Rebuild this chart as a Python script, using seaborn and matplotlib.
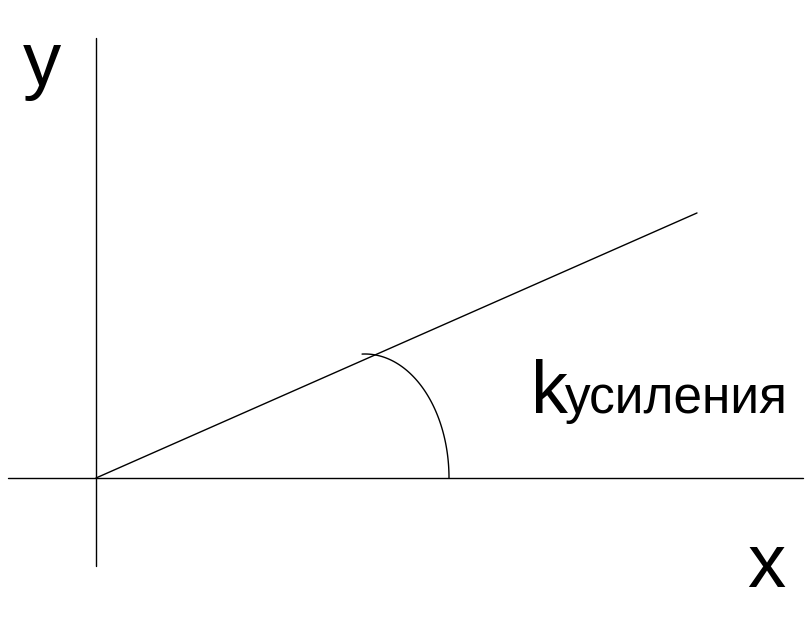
import numpy as np
import pandas as pd
import matplotlib
matplotlib.use("Agg")
import matplotlib.pyplot as plt
import seaborn as sns

# diagram coordinates (origin where the axes cross, 1 unit ~ 1 px)
x_axis = [-88, 707]
y_axis = [-88, 440]
gain_x = [0, 601]
gain_slope = 0.441
arc_center = (269, 0)
arc_radii = (84, 124)
arc_angles = [0, 92]

sns.set_theme(style="white")
plt.rcParams["font.family"] = ["Liberation Sans", "DejaVu Sans"]

fig = plt.figure(figsize=(8.11, 6.17), dpi=100)
ax = fig.add_axes([0, 0, 1, 1])

kw = dict(color="black", linewidth=1.0, legend=False, sort=False,
          estimator=None)

sns.lineplot(x=x_axis, y=[0, 0], ax=ax, **kw)
sns.lineplot(x=[0, 0], y=y_axis, ax=ax, orient="y", **kw)

gain = pd.DataFrame({"x": gain_x})
gain["y"] = gain["x"] * gain_slope
sns.lineplot(data=gain, x="x", y="y", ax=ax, **kw)

t = np.radians(np.linspace(arc_angles[0], arc_angles[1], 100))
arc = pd.DataFrame({"x": arc_center[0] + arc_radii[0] * np.cos(t),
                    "y": arc_center[1] + arc_radii[1] * np.sin(t)})
sns.lineplot(data=arc, x="x", y="y", ax=ax, **kw)

txt = dict(color="black", ha="left", va="baseline")
ax.text(-73, 393, "y", fontsize=55, **txt)
ax.text(651, -109, "x", fontsize=55, **txt)
ax.text(435, 65, "k", fontsize=53, **txt)
ax.text(469, 65, "усиления", fontsize=37, **txt)

ax.set_xlim(-96, 715)
ax.set_ylim(-139, 478)
ax.axis("off")

fig.savefig("out.png", dpi=100)
